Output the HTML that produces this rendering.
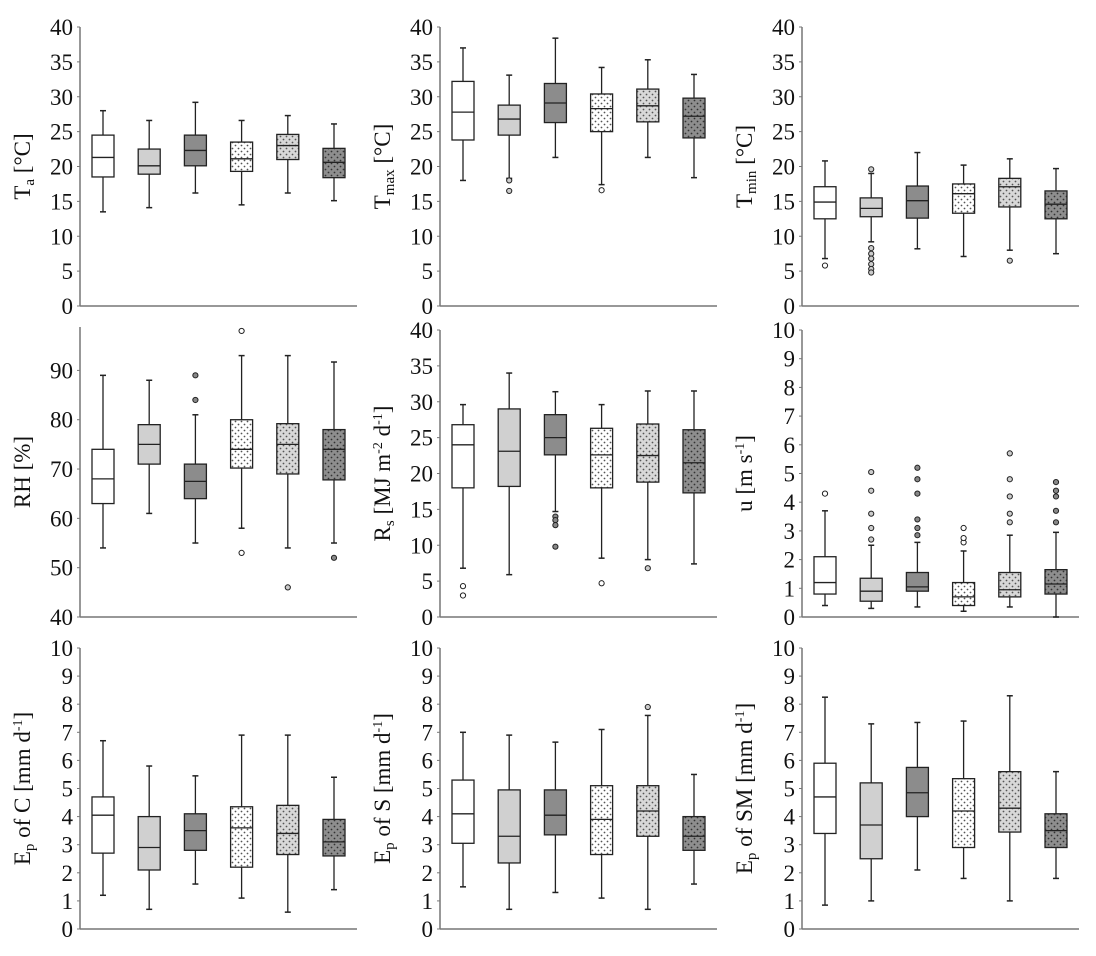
<!DOCTYPE html>
<html><head><meta charset="utf-8"><style>
html,body{margin:0;padding:0;background:#fff;}
svg text{font-family:"Liberation Serif",serif;fill:#111;}
</style></head><body>
<svg id="chart" width="1096" height="951" viewBox="0 0 1096 951" xmlns="http://www.w3.org/2000/svg">
<defs>
<pattern id="dotW" width="6" height="6" patternUnits="userSpaceOnUse"><rect width="6" height="6" fill="#ffffff"/><circle cx="1.5" cy="1.5" r="0.9" fill="#555"/><circle cx="4.5" cy="4.5" r="0.9" fill="#555"/></pattern>
<pattern id="dotL" width="6" height="6" patternUnits="userSpaceOnUse"><rect width="6" height="6" fill="#d8d8d8"/><circle cx="1.5" cy="1.5" r="0.9" fill="#555"/><circle cx="4.5" cy="4.5" r="0.9" fill="#555"/></pattern>
<pattern id="dotD" width="6" height="6" patternUnits="userSpaceOnUse"><rect width="6" height="6" fill="#8e8e8e"/><circle cx="1.5" cy="1.5" r="0.9" fill="#333"/><circle cx="4.5" cy="4.5" r="0.9" fill="#333"/></pattern>
</defs>
</svg>
<script>
// category styles (6 groups)
const categories = ['g1','g2','g3','g4','g5','g6'];
const fills = ['#ffffff','#d0d0d0','#8c8c8c','url(#dotW)','url(#dotL)','url(#dotD)'];

// panel data: [whiskerLow, q1, median, q3, whiskerHigh]
const taBoxes   = [[13.5,18.5,21.3,24.5,28],[14.1,18.9,20.1,22.5,26.6],[16.2,20.1,22.3,24.5,29.2],[14.5,19.3,21.1,23.5,26.6],[16.2,21,23,24.6,27.3],[15.1,18.4,20.6,22.6,26.1]];
const taOut     = [[],[],[],[],[],[]];
const tmaxBoxes = [[18,23.8,27.8,32.2,37],[18.3,24.5,26.8,28.8,33.1],[21.3,26.3,29.1,31.9,38.4],[17.4,25,28.3,30.4,34.2],[21.3,26.4,28.7,31.1,35.3],[18.4,24.1,27.2,29.8,33.2]];
const tmaxOut   = [[],[18,16.5],[],[16.6],[],[]];
const tminBoxes = [[6.8,12.5,14.9,17.1,20.8],[9.2,12.8,14,15.5,19],[8.2,12.6,15.1,17.2,22],[7.1,13.3,16.1,17.5,20.2],[8,14.2,17.1,18.3,21.1],[7.5,12.5,14.6,16.5,19.7]];
const tminOut   = [[5.8],[19.6,8.3,7.5,6.8,6.0,5.3,4.8],[],[],[6.5],[]];
const rhBoxes   = [[54,63,68,74,89],[61,71,75,79,88],[55,64,67.5,71,81],[58,70.2,74,80,93],[54,69,75,79.2,93],[55,67.8,74,78,91.7]];
const rhOut     = [[],[],[89,84],[98,53],[46],[52]];
const rsBoxes   = [[6.8,18,24,26.8,29.6],[5.9,18.2,23.1,29,34],[14.7,22.6,25,28.2,31.4],[8.2,18,22.6,26.3,29.6],[8,18.8,22.5,26.9,31.5],[7.4,17.3,21.5,26.1,31.5]];
const rsOut     = [[4.3,3],[],[14,13.5,12.8,9.8],[4.7],[6.8],[]];
const uBoxes    = [[0.4,0.8,1.2,2.1,3.7],[0.3,0.55,0.9,1.35,2.5],[0.35,0.9,1.05,1.55,2.6],[0.2,0.4,0.7,1.2,2.3],[0.35,0.7,0.95,1.55,2.85],[0,0.8,1.15,1.65,2.95]];
const uOut      = [[4.3],[2.7,3.1,3.6,4.4,5.05],[2.85,3.1,3.4,4.3,4.8,5.2],[2.6,2.75,3.1],[3.3,3.6,4.2,4.8,5.7],[3.3,3.7,4.2,4.4,4.7]];
const epcBoxes  = [[1.2,2.7,4.05,4.7,6.7],[0.7,2.1,2.9,4.0,5.8],[1.6,2.8,3.5,4.1,5.45],[1.1,2.2,3.6,4.35,6.9],[0.6,2.65,3.4,4.4,6.9],[1.4,2.6,3.1,3.9,5.4]];
const epsBoxes  = [[1.5,3.05,4.1,5.3,7.0],[0.7,2.35,3.3,4.95,6.9],[1.3,3.35,4.05,4.95,6.65],[1.1,2.65,3.9,5.1,7.1],[0.7,3.3,4.2,5.1,7.6],[1.6,2.8,3.3,4.0,5.5]];
const epsOut    = [[],[],[],[],[7.9],[]];
const epsmBoxes = [[0.85,3.4,4.7,5.9,8.25],[1.0,2.5,3.7,5.2,7.3],[2.1,4.0,4.85,5.75,7.35],[1.8,2.9,4.2,5.35,7.4],[1.0,3.45,4.3,5.6,8.3],[1.8,2.9,3.5,4.1,5.6]];
const none6     = [[],[],[],[],[],[]];

const ticks40 = [0,5,10,15,20,25,30,35,40];
const ticksRH = [40,50,60,70,80,90];
const ticks10 = [0,1,2,3,4,5,6,7,8,9,10];

const NS='http://www.w3.org/2000/svg';
const svg=document.getElementById('chart');
function mk(tag,attrs,parent){const e=document.createElementNS(NS,tag);for(const k in attrs)e.setAttribute(k,attrs[k]);(parent||svg).appendChild(e);return e;}

const colX=[80,440,802], colW=277;
const rows=[{b:306,t:27},{b:617,t:327},{b:929,t:648}];

const panels=[
 {c:0,r:0,min:0,max:40,ticks:ticks40,boxes:taBoxes,out:taOut,title:[['T',''],['a','sub'],[' [°C]','']],name:'ta'},
 {c:1,r:0,min:0,max:40,ticks:ticks40,boxes:tmaxBoxes,out:tmaxOut,title:[['T',''],['max','sub'],[' [°C]','']],name:'tmax'},
 {c:2,r:0,min:0,max:40,ticks:ticks40,boxes:tminBoxes,out:tminOut,title:[['T',''],['min','sub'],[' [°C]','']],name:'tmin'},
 {c:0,r:1,min:40,max:98.8,ticks:ticksRH,boxes:rhBoxes,out:rhOut,title:[['RH [%]','']],name:'rh'},
 {c:1,r:1,min:0,max:40,ticks:ticks40,boxes:rsBoxes,out:rsOut,title:[['R',''],['s','sub'],[' [MJ m',''],['-2','sup'],[' d',''],['-1','sup'],[']','']],name:'rs',top:330},
 {c:2,r:1,min:0,max:10,ticks:ticks10,boxes:uBoxes,out:uOut,title:[['u [m s',''],['-1','sup'],[']','']],name:'u',top:330},
 {c:0,r:2,min:0,max:10,ticks:ticks10,boxes:epcBoxes,out:none6,title:[['E',''],['p','sub'],[' of C [mm d',''],['-1','sup'],[']','']],name:'ep-c'},
 {c:1,r:2,min:0,max:10,ticks:ticks10,boxes:epsBoxes,out:epsOut,title:[['E',''],['p','sub'],[' of S [mm d',''],['-1','sup'],[']','']],name:'ep-s'},
 {c:2,r:2,min:0,max:10,ticks:ticks10,boxes:epsmBoxes,out:none6,title:[['E',''],['p','sub'],[' of SM [mm d',''],['-1','sup'],[']','']],name:'ep-sm'}
];

panels.forEach(p=>{
  const g=mk('g',{});
  
  
  const x0=colX[p.c], yb=rows[p.r].b, yt=(p.top!==undefined?p.top:rows[p.r].t);
  const y=v=>yb-(v-p.min)/(p.max-p.min)*(yb-yt);
  const x=i=>x0+23+i*46.2;
  const ya=mk('line',{x1:x0,y1:yt,x2:x0,y2:yb,stroke:'#777','stroke-width':1.5},g);
  
  
  const xa=mk('line',{x1:x0,y1:yb,x2:x0+colW,y2:yb,stroke:'#777','stroke-width':1.5},g);
  
  
  p.ticks.forEach(t=>{
    mk('line',{x1:x0-3,y1:y(t),x2:x0,y2:y(t),stroke:'#777','stroke-width':1},g);
    const tx=mk('text',{x:x0-7,y:y(t)+8,'text-anchor':'end','font-size':23},g);
    tx.textContent=t;
    
    
  });
  const cy=(yt+yb)/2, tx0=x0-50;
  const tt=mk('text',{x:0,y:0,'text-anchor':'middle','font-size':23,transform:`translate(${tx0},${cy}) rotate(-90)`},g);
  
  
  p.title.forEach(([s,k])=>{
    const ts=mk('tspan',{},tt);
    if(k==='sub'){ts.setAttribute('baseline-shift','-4');ts.setAttribute('font-size',15);}
    if(k==='sup'){ts.setAttribute('baseline-shift','8');ts.setAttribute('font-size',14);}
    ts.textContent=s;
  });
  p.boxes.forEach((b,i)=>{
    const bg=mk('g',{},g);
    
    
    const cx=x(i), hw=11;
    mk('line',{x1:cx,y1:y(b[0]),x2:cx,y2:y(b[4]),stroke:'#222','stroke-width':1.3},bg);
    mk('line',{x1:cx-3,y1:y(b[0]),x2:cx+3,y2:y(b[0]),stroke:'#222','stroke-width':1.5},bg);
    mk('line',{x1:cx-3,y1:y(b[4]),x2:cx+3,y2:y(b[4]),stroke:'#222','stroke-width':1.5},bg);
    mk('rect',{x:cx-hw,y:y(b[3]),width:hw*2,height:y(b[1])-y(b[3]),fill:fills[i],stroke:'#222','stroke-width':1.3},bg);
    mk('line',{x1:cx-hw,y1:y(b[2]),x2:cx+hw,y2:y(b[2]),stroke:'#222','stroke-width':1.3},bg);
    p.out[i].forEach(o=>{
      const c=mk('circle',{cx:cx,cy:y(o),r:2.6,fill:i%3===0?'#fff':(i%3===1?'#ccc':'#888'),stroke:'#222','stroke-width':1},bg);
      
      
    });
  });
});
</script>
</body></html>
